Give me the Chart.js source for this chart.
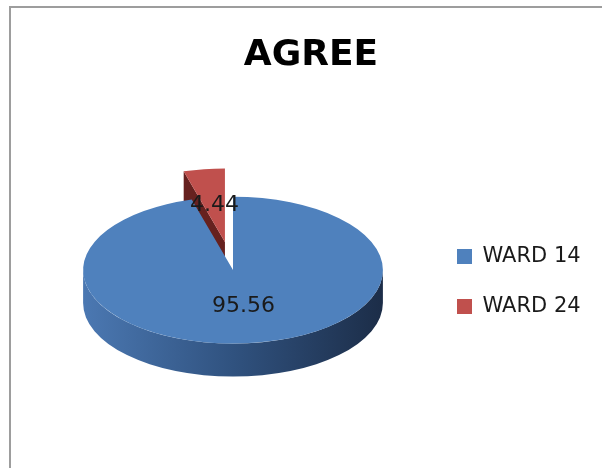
<!DOCTYPE html>
<html>
<head>
<meta charset="utf-8">
<script src="https://cdn.jsdelivr.net/npm/chart.js@4.4.1/dist/chart.umd.min.js"></script>
<style>
  html, body { margin: 0; padding: 0; background: #fff; overflow: hidden; }
  #wrap { position: relative; width: 602px; height: 468px; overflow: hidden; }
  #frame { position: absolute; left: 9px; top: 6px; width: 800px; height: 800px;
           border: 2px solid #9d9d9d; box-sizing: border-box; }
  canvas { position: absolute; left: 0; top: 0; }
</style>
</head>
<body>
<div id="wrap"><div id="frame"></div><canvas id="c" width="602" height="468"></canvas></div>
<script>
// Survey answers: share of "agree" responses per ward
const categories = ['WARD 14', 'WARD 24'];
const agreeValues = [95.56, 4.44];
const sliceColors = ['#4f81bd', '#c0504d'];

// 3-D look of the disc
const TILT = 0.49;            // vertical squash of the disc
const DEPTH = 33;             // thickness of the disc in px
const EXPLODE = [0, 58];      // how far each slice is pulled out
const sideDark = ['#27406a', '#66211f'];
const rimStops = [
  [[0, '#4b78b2'], [0.5, '#30527f'], [1, '#1c2d48']],
  [[0, '#a8423f'], [0.5, '#872f2d'], [1, '#5a1d1b']]
];

function drawSides(ctx, s) {
  const X = s.x + s.dx, Y = s.y + s.dy, R = s.outerRadius, ry = R * TILT;
  // radial faces that turn towards the viewer
  const faces = [];
  if (Math.cos(s.startAngle) < -1e-6) faces.push(s.startAngle);
  if (Math.cos(s.endAngle) > 1e-6) faces.push(s.endAngle);
  faces.forEach(a => {
    const px = X + R * Math.cos(a), py = Y + ry * Math.sin(a);
    ctx.beginPath();
    ctx.moveTo(X, Y);
    ctx.lineTo(px, py);
    ctx.lineTo(px, py + DEPTH);
    ctx.lineTo(X, Y + DEPTH);
    ctx.closePath();
    ctx.fillStyle = sideDark[s.i];
    ctx.fill();
  });
  // outer rim, front half only
  for (let n = -1; n <= 1; n++) {
    const lo = Math.max(s.startAngle, n * 2 * Math.PI);
    const hi = Math.min(s.endAngle, n * 2 * Math.PI + Math.PI);
    if (hi <= lo) continue;
    const g = ctx.createLinearGradient(X - R, 0, X + R, 0);
    rimStops[s.i].forEach(([o, c]) => g.addColorStop(o, c));
    ctx.beginPath();
    ctx.ellipse(X, Y, R, ry, 0, lo, hi, false);
    ctx.ellipse(X, Y + DEPTH, R, ry, 0, hi, lo, true);
    ctx.closePath();
    ctx.fillStyle = g;
    ctx.fill();
  }
}

function drawTop(ctx, s) {
  ctx.save();
  ctx.translate(s.dx, s.dy);
  ctx.translate(s.x, s.y);
  ctx.scale(1, TILT);
  ctx.translate(-s.x, -s.y);
  s.arc.draw(ctx);
  ctx.restore();
}

const pie3d = {
  id: 'pie3d',
  beforeDatasetsDraw(chart) {
    const ctx = chart.ctx;
    const parts = chart.getDatasetMeta(0).data.map((arc, i) => {
      const p = arc.getProps(['x', 'y', 'startAngle', 'endAngle', 'outerRadius']);
      const mid = (p.startAngle + p.endAngle) / 2;
      const d = EXPLODE[i] || 0;
      return Object.assign({ arc, i, mid, dx: Math.cos(mid) * d, dy: Math.sin(mid) * d * TILT }, p);
    });
    // back slices first
    parts.slice().sort((a, b) => Math.sin(a.mid) - Math.sin(b.mid)).forEach(s => {
      drawSides(ctx, s);
      drawTop(ctx, s);
    });
    // value labels at the middle of each slice
    ctx.save();
    ctx.font = '22px "DejaVu Sans"';
    ctx.fillStyle = '#1a1a1a';
    ctx.textAlign = 'center';
    ctx.textBaseline = 'middle';
    parts.forEach(s => {
      const r = s.outerRadius / 2;
      const lx = s.x + s.dx + Math.cos(s.mid) * r;
      const ly = s.y + s.dy + Math.sin(s.mid) * r * TILT;
      ctx.fillText(String(agreeValues[s.i]), lx, ly);
    });
    ctx.restore();
    return false;
  }
};

new Chart(document.getElementById('c'), {
  type: 'pie',
  data: {
    labels: categories,
    datasets: [{ data: agreeValues, backgroundColor: sliceColors, borderWidth: 0 }]
  },
  options: {
    responsive: false,
    animation: false,
    events: [],
    layout: { padding: { top: 0, left: 38, right: 18, bottom: 48 } },
    plugins: {
      title: {
        display: true,
        text: 'AGREE',
        color: '#000',
        font: { family: 'DejaVu Sans', size: 36, weight: 'bold', lineHeight: 1.2 },
        padding: { top: 34, bottom: 43 }
      },
      legend: {
        position: 'right',
        fullSize: false,
        maxWidth: 156,
        labels: {
          boxWidth: 15,
          boxHeight: 15,
          padding: 29,
          color: '#1a1a1a',
          font: { family: 'DejaVu Sans', size: 21 }
        },
        title: { display: true, text: '', padding: 0, font: { size: 23, lineHeight: 1 } }
      },
      tooltip: { enabled: false }
    }
  },
  plugins: [pie3d]
});
</script>
</body>
</html>
